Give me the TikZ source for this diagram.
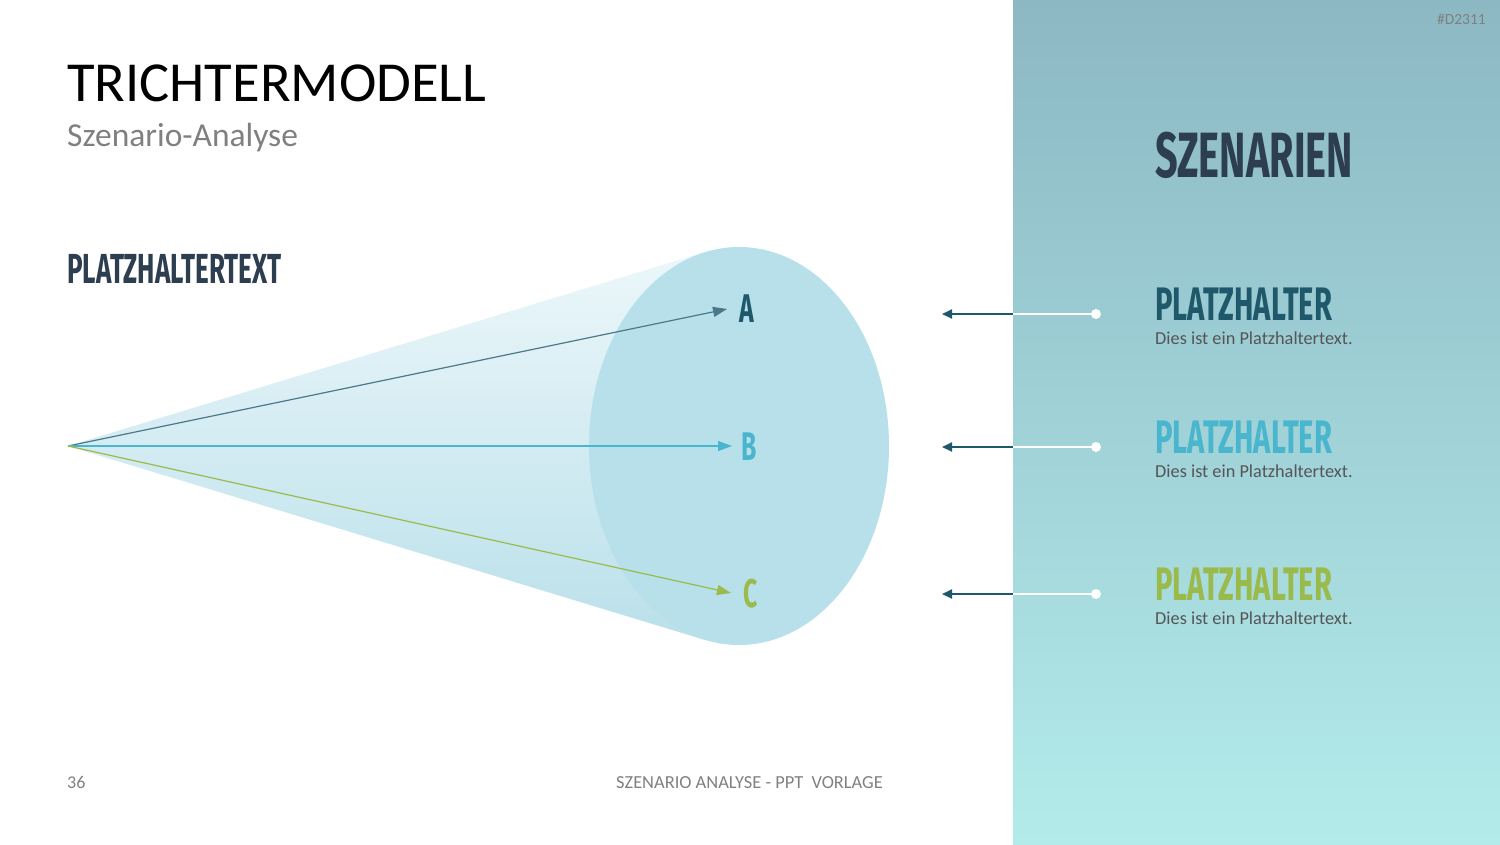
\documentclass[tikz,border=0pt]{standalone}
\usepackage{fontspec}
\setmainfont{Carlito}
\newfontfamily\headfont{Fira Sans}[FakeStretch=0.62]
\usetikzlibrary{arrows.meta, positioning}
\definecolor{navyblue}{RGB}{44,62,80}
\definecolor{tealdark}{RGB}{31,88,107}
\definecolor{skyblue}{RGB}{74,182,206}
\definecolor{leafgreen}{RGB}{155,186,76}
\definecolor{panelTop}{RGB}{140,184,196}
\definecolor{panelBottom}{RGB}{179,235,234}
\definecolor{coneLight}{RGB}{236,247,250}
\definecolor{coneDark}{RGB}{186,224,234}
\definecolor{discblue}{RGB}{183,224,234}
\definecolor{textgray}{RGB}{85,85,85}

\begin{document}
\begin{tikzpicture}[
    x=1pt, y=-1pt,
    heading/.style={inner sep=0pt, anchor=base west, text=navyblue, font=\headfont\bfseries\fontsize{42}{42}\selectfont},
    itemhead/.style={inner sep=0pt, anchor=base west, font=\headfont\bfseries\fontsize{47}{47}\selectfont},
    itemtext/.style={inner sep=0pt, anchor=base west, text=textgray, font=\fontsize{18.3}{20}\selectfont},
    letter/.style={inner sep=0pt, font=\headfont\bfseries\fontsize{40}{40}\selectfont},
    conearrow/.style={-{Triangle[length=14pt, width=10pt]}, line width=1.2pt},
    linkarrow/.style={-{Triangle[length=10pt, width=9pt]}, line width=2pt, tealdark},
    dot/.style={circle, fill=white, inner sep=0pt, minimum size=10pt}
]
\useasboundingbox (0,0) rectangle (1500,844);

% Right panel
\shade[top color=panelTop, bottom color=panelBottom] (1013,0) rectangle (1500,844);
\node[inner sep=0pt, anchor=base east, text=gray, font=\fontsize{15.5}{16}\selectfont] (code) at (1486,24) {\#D2311};

% Title
\node[inner sep=0pt, anchor=base west, font=\fontsize{56.5}{60}\selectfont] (title) at (67,101) {TRICHTERMODELL};
\node[inner sep=0pt, anchor=base west, text=gray, font=\fontsize{33.5}{36}\selectfont] (subtitle) at (67,146) {Szenario-Analyse};
\node[heading] (leftlabel) at (67,283) {PLATZHALTERTEXT};

% Funnel
\coordinate (apex) at (68,446);
\shade[top color=coneLight, bottom color=coneDark] (apex) -- (705,252) -- (705,640) -- cycle;
\fill[discblue] (739,446) ellipse [x radius=150, y radius=199];

% Scenario letters
\node[letter, text=tealdark] (lblA) at (747,309) {A};
\node[letter, text=skyblue] (lblB) at (749,447) {B};
\node[letter, text=leafgreen] (lblC) at (751,594) {C};

\draw[conearrow, tealdark!80] (apex) -- (727,309);
\draw[conearrow, skyblue] (apex) -- (732,446);
\draw[conearrow, leafgreen] (apex) -- (731,593);

% Scenarios
\node[heading, font=\headfont\bfseries\fontsize{64}{64}\selectfont] (scentitle) at (1155,177) {SZENARIEN};

\node[itemhead, text=tealdark] (headA) at (1155,320) {PLATZHALTER};
\node[itemtext] (textA) at (1155,344) {Dies ist ein Platzhaltertext.};
\node[itemhead, text=skyblue] (headB) at (1155,453) {PLATZHALTER};
\node[itemtext] (textB) at (1155,477) {Dies ist ein Platzhaltertext.};
\node[itemhead, text=leafgreen] (headC) at (1155,600) {PLATZHALTER};
\node[itemtext] (textC) at (1155,624) {Dies ist ein Platzhaltertext.};

% Connectors
\node[dot] (dotA) at (1096,314) {};
\node[dot] (dotB) at (1096,447) {};
\node[dot] (dotC) at (1096,594) {};
\coordinate (edgeA) at (1013,314);
\coordinate (edgeB) at (1013,447);
\coordinate (edgeC) at (1013,594);
\coordinate (endA) at (942,314);
\coordinate (endB) at (942,447);
\coordinate (endC) at (942,594);
\draw[white, line width=2pt] (dotA.center) -- (edgeA);
\draw[white, line width=2pt] (dotB.center) -- (edgeB);
\draw[white, line width=2pt] (dotC.center) -- (edgeC);
\draw[linkarrow] (edgeA) -- (endA);
\draw[linkarrow] (edgeB) -- (endB);
\draw[linkarrow] (edgeC) -- (endC);

% Footer
\node[inner sep=0pt, anchor=base west, text=gray, font=\fontsize{18}{20}\selectfont] (pagenum) at (67,788) {36};
\node[inner sep=0pt, anchor=base west, text=gray, font=\fontsize{18.4}{20}\selectfont] (footer) at (616,788) {SZENARIO ANALYSE - PPT\ \ VORLAGE};
\end{tikzpicture}
\end{document}
